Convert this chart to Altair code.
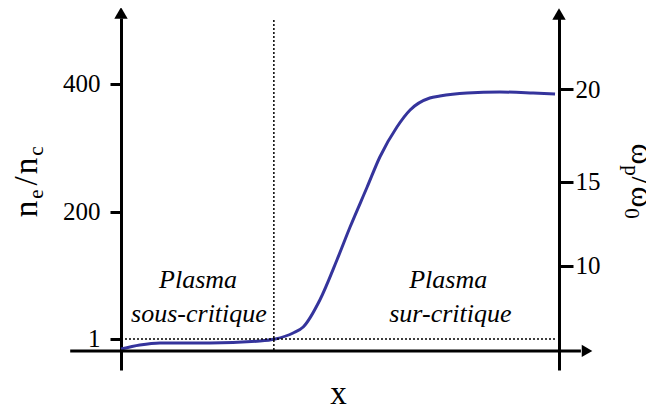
import altair as alt
import pandas as pd

# ---- data ----
# position along x (arbitrary units, 0 = left axis, 100 = right axis)
curve_x = [0, 4.3, 8.9, 20.3, 31.7, 35.2, 39.3, 41.6, 45.4, 49.3, 52.3, 56.2,
           59.1, 63.0, 66.0, 70.5, 72.8, 79.0, 86.5, 94.1, 99.1]
# electron density n_e/n_c
curve_ne = [-14.7, -8.4, -5.2, -5.2, -2.2, 0.9, 10.3, 19.7, 61.9, 124.4, 175.9,
            238.4, 285.3, 332.2, 358.8, 377.5, 380.6, 385.3, 386.9, 385.3, 383.8]

left_ticks = [1, 200, 400]
right_ticks = [10, 15, 20]

critical_x = 34.9      # boundary between the two regions
critical_ne = 1        # critical density
labels_txt = ["Plasma", "sous-critique", "Plasma", "sur-critique"]
labels_x = [17.6, 17.8, 74.7, 75.2]
labels_y = [80.6, 27.5, 80.6, 27.5]

# ---- layout constants ----
W, H = 438, 352
X_DOM = [0, 100]
Y_DOM = [-47.5, 502.5]
W_DOM = [2.396, 23.60]
AXIS_Y = -17.8          # level of the horizontal x axis
SERIF = "'Liberation Serif', 'DejaVu Serif', 'Times New Roman', Times, serif"

xs = alt.Scale(domain=X_DOM, nice=False, zero=False)
ys = alt.Scale(domain=Y_DOM, nice=False, zero=False)

left_axis = alt.Axis(values=left_ticks, orient="left", domain=True, domainWidth=3,
                     domainColor="black", ticks=True, tickSize=11, tickWidth=3,
                     tickColor="black", labelFont=SERIF, labelFontSize=25,
                     labelColor="black", labelPadding=10, grid=False, title=None,
                     labelOverlap=False)

curve_df = pd.DataFrame({"x": curve_x, "ne": curve_ne})
curve = alt.Chart(curve_df).mark_line(color="#35349c", strokeWidth=3,
                                       interpolate="monotone").encode(
    x=alt.X("x:Q", scale=xs, axis=None),
    y=alt.Y("ne:Q", scale=ys, axis=left_axis),
)

vline = alt.Chart(pd.DataFrame({"x": [critical_x], "y1": [499.4], "y2": [AXIS_Y]})).mark_rule(
    color="black", strokeWidth=1.5, strokeDash=[2, 2]).encode(
    x=alt.X("x:Q", scale=xs, axis=None), y=alt.Y("y1:Q", scale=ys), y2="y2:Q")

hline = alt.Chart(pd.DataFrame({"x1": [0], "x2": [99.1], "y": [critical_ne]})).mark_rule(
    color="black", strokeWidth=1.5, strokeDash=[2, 2]).encode(
    x=alt.X("x1:Q", scale=xs, axis=None), x2="x2:Q", y=alt.Y("y:Q", scale=ys))

xaxis = alt.Chart(pd.DataFrame({"x1": [-11.6], "x2": [105.0], "y": [AXIS_Y]})).mark_rule(
    color="black", strokeWidth=3).encode(
    x=alt.X("x1:Q", scale=xs, axis=None), x2="x2:Q", y=alt.Y("y:Q", scale=ys))

arrows_up = alt.Chart(pd.DataFrame({"x": [0, 100], "y": [510.3, 508.75]})).mark_point(
    shape="triangle-up", filled=True, color="black", opacity=1, size=180).encode(
    x=alt.X("x:Q", scale=xs, axis=None), y=alt.Y("y:Q", scale=ys))

arrow_right = alt.Chart(pd.DataFrame({"x": [106.4], "y": [AXIS_Y]})).mark_point(
    shape="triangle-right", filled=True, color="black", opacity=1, size=150).encode(
    x=alt.X("x:Q", scale=xs, axis=None), y=alt.Y("y:Q", scale=ys))

ann = alt.Chart(pd.DataFrame({"x": labels_x, "y": labels_y, "t": labels_txt})).mark_text(
    font=SERIF, fontStyle="italic", fontSize=26, color="black", align="center",
    baseline="alphabetic").encode(
    x=alt.X("x:Q", scale=xs, axis=None), y=alt.Y("y:Q", scale=ys), text="t:N")

one = pd.DataFrame({"a": [0]})
pieces = []
# left title n_e/n_c, rotated, reading upwards (page coords -> relative to plot origin)
for t, fs, py, px in [("n", 33, 209, 36.5), ("e", 21, 194, 43), ("/", 33, 181, 36.5),
                      ("n", 33, 166, 36.5), ("c", 21, 151, 43)]:
    pieces.append(alt.Chart(one).mark_text(
        font=SERIF, fontSize=fs, angle=270, align="center", baseline="alphabetic",
        color="black").encode(x=alt.value(px - 121), y=alt.value(py - 18), text=alt.value(t)))
# right title ω_p/ω_0, rotated, reading downwards
for t, fs, py, px in [("ω", 32, 154, 632), ("p", 21, 170.5, 625), ("/", 32, 181, 632),
                      ("ω", 32, 197, 632), ("0", 21, 213.5, 625)]:
    pieces.append(alt.Chart(one).mark_text(
        font=SERIF, fontSize=fs, angle=90, align="center", baseline="alphabetic",
        color="black").encode(x=alt.value(px - 121), y=alt.value(py - 18), text=alt.value(t)))
# x label
pieces.append(alt.Chart(one).mark_text(
    font=SERIF, fontSize=33, align="center", baseline="alphabetic", color="black").encode(
    x=alt.value(338.5 - 121), y=alt.value(404 - 18), text=alt.value("x")))

left_layer = alt.layer(curve, vline, hline, xaxis, arrows_up, arrow_right, ann, *pieces)

right_axis = alt.Axis(values=right_ticks, orient="right", domain=True, domainWidth=3,
                      domainColor="black", ticks=True, tickSize=14, tickWidth=3,
                      tickColor="black", labelFont=SERIF, labelFontSize=25,
                      labelColor="black", labelPadding=2, grid=False, title=None,
                      labelOverlap=False)
right_layer = alt.Chart(pd.DataFrame({"w": right_ticks})).mark_point(opacity=0).encode(
    x=alt.value(0),
    y=alt.Y("w:Q", scale=alt.Scale(type="pow", exponent=1.28, domain=W_DOM,
                                   nice=False, zero=False), axis=right_axis),
)

chart = alt.layer(left_layer, right_layer).resolve_scale(y="independent").properties(
    width=W, height=H,
    autosize=alt.AutoSizeParams(type="none"),
    padding={"left": 113, "top": 10, "right": 87, "bottom": 34},
).configure_view(stroke=None)

chart.save("out.html", embed_options={"renderer": "svg", "actions": False})
